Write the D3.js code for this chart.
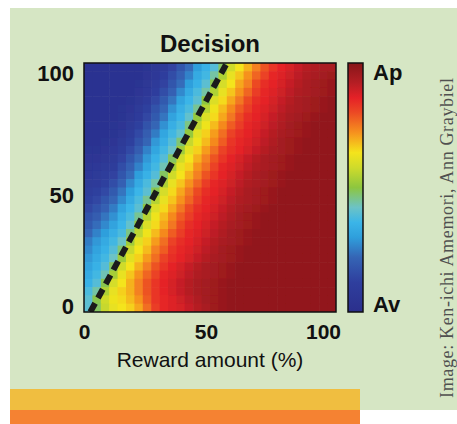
<!DOCTYPE html>
<html>
<head>
<meta charset="utf-8">
<script src="https://cdn.jsdelivr.net/npm/d3@7"></script>
<style>
  html, body { margin: 0; padding: 0; background: #fff; }
  svg { display: block; }
</style>
</head>
<body>
<div id="chart"></div>
<script>
// choice map, 0 = avoid (Av) ... 100 = approach (Ap)
// rows go from y = 100 (top) down to y = 0 (bottom), 30 x 30 cells
const decision = [
  [3,3,3,3,3,3,3,4,6,8,13,18,23,30,35,39,48,58,64,69,74,79,83,86,88,90,92,93,94,94],
  [3,3,3,3,3,3,3,5,7,11,16,21,26,33,37,44,54,62,67,72,77,81,85,87,89,91,93,94,95,96],
  [3,3,3,3,3,3,4,6,9,13,18,23,30,35,40,49,59,64,70,74,80,84,86,88,90,92,94,95,96,97],
  [3,3,3,3,3,3,5,7,11,16,21,27,33,38,44,54,62,67,72,77,82,85,87,89,91,93,94,95,96,97],
  [3,3,3,3,3,4,6,9,14,19,24,31,36,40,50,60,65,70,75,80,84,86,88,90,92,94,95,96,97,98],
  [3,3,3,3,4,5,8,12,17,22,28,34,38,45,55,63,68,73,78,82,85,87,89,91,93,94,95,96,97,98],
  [3,3,3,3,4,6,9,14,19,24,31,36,41,51,60,65,70,75,80,84,86,88,90,92,94,95,96,97,98,98],
  [3,3,3,4,5,8,12,17,22,28,34,38,46,56,63,68,73,78,82,85,87,89,91,93,95,96,97,98,98,98],
  [3,3,3,4,6,10,15,20,25,32,37,41,51,61,66,71,76,81,84,86,88,90,92,94,95,96,97,98,98,98],
  [3,3,4,5,8,12,17,22,29,34,39,47,57,63,68,73,78,83,85,87,89,91,93,95,96,97,98,98,98,98],
  [4,4,5,7,10,15,20,26,32,37,42,52,61,66,71,76,81,84,86,88,90,92,94,95,96,97,98,98,98,98],
  [5,5,6,8,13,18,23,29,35,39,48,58,64,69,74,79,83,86,88,90,92,94,95,96,97,98,98,98,98,98],
  [6,7,8,10,16,21,26,32,37,43,53,62,66,72,76,81,85,87,89,91,93,94,95,96,97,98,98,98,98,98],
  [7,8,10,13,18,23,30,35,39,48,58,64,69,74,79,83,86,88,90,92,94,95,96,97,98,98,98,98,98,98],
  [8,9,12,16,21,27,33,38,44,54,62,67,72,77,82,85,87,89,91,93,94,95,96,97,98,98,98,98,98,98],
  [10,12,15,19,24,30,36,40,49,59,65,70,75,80,84,86,88,90,92,94,95,96,97,98,98,98,98,98,98,98],
  [12,14,18,22,27,33,38,45,55,62,67,72,77,82,85,87,89,91,93,94,95,96,97,98,98,98,98,98,98,98],
  [14,17,21,25,31,36,40,50,60,65,70,75,80,84,86,88,90,92,94,95,96,97,98,98,98,98,98,98,98,98],
  [17,20,24,28,34,38,45,55,63,68,73,78,82,85,87,89,91,93,95,96,97,98,98,98,98,98,98,98,98,98],
  [19,23,27,31,36,41,51,60,65,70,75,80,84,86,88,90,92,94,95,96,97,98,98,98,98,98,98,98,98,98],
  [22,26,30,34,38,46,56,63,68,73,78,82,85,87,89,91,93,95,96,97,98,98,98,98,98,98,98,98,98,98],
  [25,29,33,37,42,52,61,66,71,76,81,84,86,88,90,92,94,95,96,97,98,98,98,98,98,98,98,98,98,98],
  [27,31,35,39,47,57,64,68,74,78,83,85,87,89,91,93,95,96,97,98,98,98,98,98,98,98,98,98,98,98],
  [29,33,37,42,52,61,66,71,76,81,84,86,88,90,92,94,95,96,97,98,98,98,98,98,98,98,98,98,98,98],
  [31,35,39,48,58,64,69,74,79,83,86,88,90,92,94,95,96,97,98,98,98,98,98,98,98,98,98,98,98,98],
  [33,37,43,53,62,67,72,77,81,85,87,89,91,93,94,95,96,97,98,98,98,98,98,98,98,98,98,98,98,98],
  [35,39,49,59,64,69,74,79,83,86,88,90,92,94,95,96,97,98,98,98,98,98,98,98,98,98,98,98,98,98],
  [38,44,54,62,66,69,74,79,83,86,88,90,92,94,95,96,97,98,98,98,98,98,98,98,98,98,98,98,98,98],
  [40,49,58,63,65,68,72,78,83,85,87,89,91,93,95,96,97,98,98,98,98,98,98,98,98,98,98,98,98,98],
  [40,48,57,62,64,66,70,76,82,85,87,88,90,92,94,96,97,98,98,98,98,98,98,98,98,98,98,98,98,98]
];

const xTicks = [0, 50, 100];
const yTicks = [0, 50, 100];
const titleText = "Decision";
const xTitle = "Reward amount (%)";
const barLabels = ["Av", "Ap"];
const credit = "Image: Ken-ichi Amemori, Ann Graybiel";

// 50/50 boundary (dashed line)
const boundaryX = [2.5, 56.7];
const boundaryY = [0, 100];

// jet-like colour map as it appears in the figure
const cmapStops = [0, 12, 22, 30, 36, 42, 50, 58, 64, 72, 80, 86, 92, 100];
const cmapColors = ["#2b2f8c", "#2f3f9e", "#3565b5", "#2f9fdc", "#3bb5e8", "#6cc3c6", "#8dc63f",
  "#cfdb2b", "#f4e41c", "#f6921e", "#ec4a24", "#e52127", "#b51e24", "#861619"];

const W = 457, H = 424;
const plot = { left: 84, right: 336, top: 63, bottom: 312 };
const bar = { left: 348, width: 15 };
const sans = "'Liberation Sans', Arial, Helvetica, sans-serif";

const svg = d3.select('#chart').append('svg')
  .attr('width', W).attr('height', H);

// page background + orange strips
svg.append('rect').attr('x', 10).attr('y', 8).attr('width', W - 10).attr('height', 402)
  .attr('fill', '#d6e6c4');
svg.append('rect').attr('x', 10).attr('y', 389).attr('width', 350).attr('height', 21)
  .attr('fill', '#f0be40');
svg.append('rect').attr('x', 10).attr('y', 410).attr('width', 350).attr('height', 14)
  .attr('fill', '#f58232');

const x = d3.scaleLinear().domain([0, 100]).range([plot.left, plot.right]);
const y = d3.scaleLinear().domain([0, 100]).range([plot.bottom, plot.top]);
const col = d3.scaleBand().domain(d3.range(decision[0].length)).range([plot.left, plot.right]);
const row = d3.scaleBand().domain(d3.range(decision.length)).range([plot.top, plot.bottom]);
const color = d3.scaleLinear().domain(cmapStops).range(cmapColors).clamp(true);

const defs = svg.append('defs');
defs.append('clipPath').attr('id', 'plotClip')
  .append('rect')
  .attr('x', plot.left).attr('y', plot.top)
  .attr('width', plot.right - plot.left).attr('height', plot.bottom - plot.top);
defs.append('filter').attr('id', 'soft')
  .attr('x', 0).attr('y', 0).attr('width', 1).attr('height', 1)
  .append('feGaussianBlur').attr('stdDeviation', 0.7);

const cells = decision.flatMap((r, ri) => r.map((v, ci) => ({ ri, ci, v })));

svg.append('g')
  .attr('clip-path', 'url(#plotClip)')
  .append('g')
  .attr('filter', 'url(#soft)')
  .selectAll('rect')
  .data(cells)
  .join('rect')
  .attr('x', d => col(d.ci))
  .attr('y', d => row(d.ri))
  .attr('width', col.bandwidth() + 0.6)
  .attr('height', row.bandwidth() + 0.6)
  .attr('fill', d => color(d.v));

// dashed boundary
const line = d3.line().x(d => x(d[0])).y(d => y(d[1]));
svg.append('path')
  .datum(d3.zip(boundaryX, boundaryY))
  .attr('clip-path', 'url(#plotClip)')
  .attr('d', line)
  .attr('fill', 'none')
  .attr('stroke', '#1b1b1b')
  .attr('stroke-width', 6)
  .attr('stroke-dasharray', '10,6');

svg.append('rect')
  .attr('x', plot.left).attr('y', plot.top)
  .attr('width', plot.right - plot.left).attr('height', plot.bottom - plot.top)
  .attr('fill', 'none').attr('stroke', '#111').attr('stroke-width', 1.5);

// colour bar
const cb = d3.scaleLinear().domain([0, 100]).range([plot.bottom, plot.top]);
const grad = defs.append('linearGradient').attr('id', 'cbGrad')
  .attr('x1', 0).attr('y1', 1).attr('x2', 0).attr('y2', 0);
grad.selectAll('stop').data(cmapStops).join('stop')
  .attr('offset', d => d / 100)
  .attr('stop-color', d => color(d));
svg.append('rect')
  .attr('x', bar.left).attr('y', cb(100))
  .attr('width', bar.width).attr('height', cb(0) - cb(100))
  .attr('fill', 'url(#cbGrad)')
  .attr('stroke', '#111').attr('stroke-width', 1.5);

svg.selectAll('text.cblab')
  .data(barLabels)
  .join('text')
  .attr('class', 'cblab')
  .attr('x', bar.left + bar.width + 10)
  .attr('y', (d, i) => i === 0 ? cb(0) : cb(100) + 17)
  .attr('font-family', sans).attr('font-weight', 'bold').attr('font-size', 22)
  .attr('fill', '#111')
  .text(d => d);

// title
svg.append('text')
  .attr('x', 210).attr('y', 52)
  .attr('text-anchor', 'middle')
  .attr('font-family', sans).attr('font-weight', 'bold').attr('font-size', 24)
  .attr('fill', '#111')
  .text(titleText);

// tick labels (label positions in the figure are not exactly on the frame)
const yLab = d3.scaleLinear().domain([0, 50, 100]).range([313, 202, 80]);
const xLab = d3.scaleLinear().domain([0, 50, 100]).range([84, 206, 323]);

const yAxis = svg.append('g')
  .attr('transform', 'translate(74,0)')
  .call(d3.axisLeft(yLab).tickValues(yTicks).tickSize(0).tickPadding(0));
yAxis.select('.domain').remove();
yAxis.selectAll('text')
  .attr('dy', 0).attr('x', 0)
  .attr('font-family', sans).attr('font-weight', 'bold').attr('font-size', 22)
  .attr('fill', '#111');

const xAxis = svg.append('g')
  .attr('transform', 'translate(0,339)')
  .call(d3.axisBottom(xLab).tickValues(xTicks).tickSize(0).tickPadding(0));
xAxis.select('.domain').remove();
xAxis.selectAll('text')
  .attr('dy', 0).attr('y', 0)
  .attr('font-family', sans).attr('font-weight', 'bold').attr('font-size', 21)
  .attr('fill', '#111');

svg.append('text')
  .attr('x', 210).attr('y', 367)
  .attr('text-anchor', 'middle')
  .attr('font-family', sans).attr('font-size', 21)
  .attr('fill', '#111')
  .text(xTitle);

// photo credit, rotated
const cr = svg.append('text')
  .attr('transform', 'translate(453,398) rotate(-90)')
  .attr('font-family', "'Liberation Serif', 'Times New Roman', serif")
  .attr('font-size', 18)
  .attr('fill', '#505050')
  .text(credit);
const len = cr.node().getComputedTextLength();
cr.attr('letter-spacing', (320 - len) / (credit.length - 1));
</script>
</body>
</html>
